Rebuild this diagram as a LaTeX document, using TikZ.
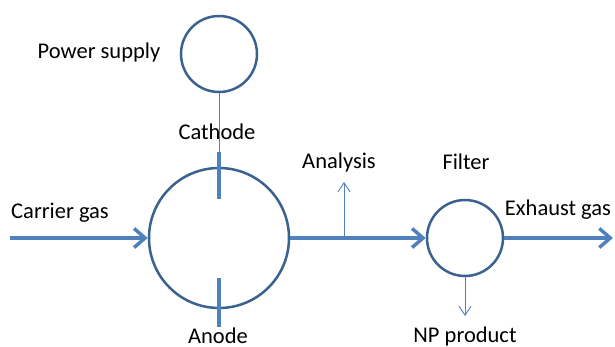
\documentclass[tikz,border=0pt]{standalone}
\usepackage{fontspec}
\setmainfont{Carlito}
\usepackage{tikz}
\usetikzlibrary{shapes, arrows.meta, positioning}
\usepackage{xcolor}
\definecolor{pipeblue}{HTML}{4F81BD}
\definecolor{rimblue}{HTML}{3A6190}

\begin{document}
\begin{tikzpicture}[x=1pt,y=-1pt,font=\fontsize{22.5}{26}\selectfont,
  vessel/.style={circle,draw=rimblue,line width=2.5pt,inner sep=0pt},
  pipe/.style={draw=pipeblue,line width=3.5pt},
  flow/.style={pipe,-{Straight Barb[length=11pt,width=19pt,line width=3.5pt]}},
  probe/.style={draw=pipeblue,line width=0.9pt},
  tapflow/.style={probe,-{Straight Barb[length=9pt,width=12pt,line width=0.9pt]}},
  lbl/.style={inner sep=0pt,text=black}]

\useasboundingbox (0,0) rectangle (615,346);

\node[vessel,minimum size=76pt]  (psu)    at (219,54)  {};
\node[vessel,minimum size=140pt] (cell)   at (219,238) {};
\node[vessel,minimum size=76pt]  (filter) at (465,238) {};

\coordinate (cathtop) at (219,152);
\coordinate (cathend) at (219,199);
\coordinate (anotop)  at (219,278);
\coordinate (anoend)  at (219,327);
\coordinate (gasin)   at (10,238);
\coordinate (gasout)  at (613,238);
\coordinate (tap)     at (344,238);
\coordinate (tapend)  at (344,182);
\coordinate (npend)   at (465,316);

\node[lbl] (psulbl)  at (99,52)   {Power supply};
\node[lbl] (cathlbl) at (217,132) {Cathode};
\node[lbl] (anolbl)  at (218,336) {Anode};
\node[lbl] (carrlbl) at (60,213)  {Carrier gas};
\node[lbl] (analbl)  at (339,162) {Analysis};
\node[lbl] (filtlbl) at (466,162) {Filter};
\node[lbl] (exhlbl)  at (558,210) {Exhaust gas};
\node[lbl] (nplbl)   at (465,336) {NP product};

\draw[probe] (psu.south) -- (cathtop);
\draw[pipe] (cathtop) -- (cathend);
\draw[pipe] (anotop) -- (anoend);

\draw[flow] (gasin) -- (cell.west);
\draw[flow] (cell.east) -- (filter.west);
\draw[flow] (filter.east) -- (gasout);
\draw[tapflow] (tap) -- (tapend);
\draw[tapflow] (filter.south) -- (npend);

\end{tikzpicture}
\end{document}
